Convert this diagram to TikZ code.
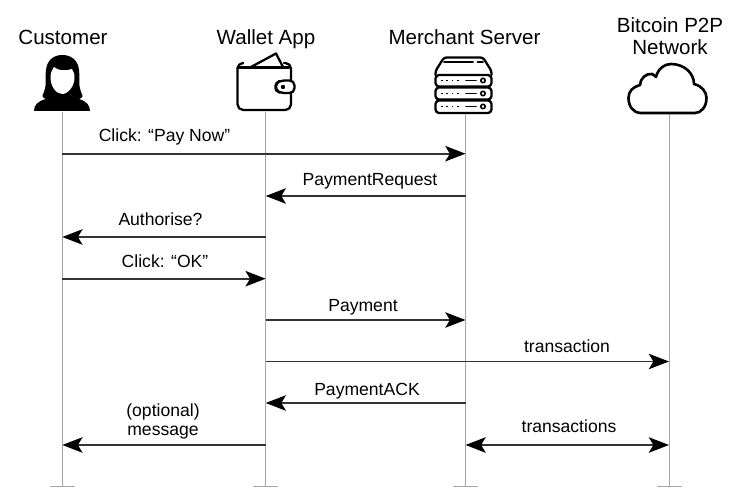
\documentclass[tikz,border=0pt]{standalone}
\usepackage{fontspec}
\setmainfont{Liberation Sans}
\usetikzlibrary{arrows.meta}

\tikzset{
  >={Stealth[length=11.5pt, width=8.8pt, inset=2.6pt, black]},
  actorlabel/.style={anchor=base, align=center, inner sep=0pt, font=\fontsize{11.7}{13}\selectfont},
  msglabel/.style={anchor=base, align=center, inner sep=0pt, font=\fontsize{10}{11.3}\selectfont},
  lifeline/.style={draw=black!35, line width=0.5pt},
  msg/.style={line width=0.95pt, draw=black!80, ->},
  bothmsg/.style={line width=0.95pt, draw=black!80, <->},
  icon/.style={draw=black, line width=1.3pt, line join=round, line cap=round}
}

\begin{document}
\begin{tikzpicture}[x=0.02cm, y=-0.02cm]

\useasboundingbox (0,0) rectangle (748,499);

\node[actorlabel] (customerlabel) at (63,45) {Customer};
\node[actorlabel] (walletlabel) at (266,45) {Wallet App};
\node[actorlabel] (merchantlabel) at (464.5,45) {Merchant Server};
\node[actorlabel] (bitcoinlabel) at (670,55) {Bitcoin P2P\\Network};

\coordinate (customer) at (62.3,112);
\coordinate (wallet) at (265.7,112);
\coordinate (merchant) at (465.5,113);
\coordinate (bitcoin) at (669,113);

\coordinate (bottom) at (0,486.7);
\coordinate (m1) at (0,153.7);
\coordinate (m2) at (0,196);
\coordinate (m3) at (0,237);
\coordinate (m4) at (0,278.7);
\coordinate (m5) at (0,320);
\coordinate (m6) at (0,361.5);
\coordinate (m7) at (0,403);
\coordinate (m8) at (0,445);

\draw[lifeline] (customer) -- (customer |- bottom) +(-12.5,0) -- +(12.5,0);
\draw[lifeline] (wallet) -- (wallet |- bottom) +(-12.5,0) -- +(12.5,0);
\draw[lifeline] (merchant) -- (merchant |- bottom) +(-12.5,0) -- +(12.5,0);
\draw[lifeline] (bitcoin) -- (bitcoin |- bottom) +(-12.5,0) -- +(12.5,0);

\fill[black] (34,111) .. controls (34,105) and (38,101) .. (46,99)
      .. controls (43,98) and (41,97) .. (44,92)
      .. controls (47,85) and (45,78) .. (46,70)
      .. controls (47,60) and (54,55) .. (62.3,55)
      .. controls (71,55) and (78,60) .. (79,70)
      .. controls (80,78) and (78,85) .. (81,92)
      .. controls (84,97) and (82,98) .. (79,99)
      .. controls (86,101) and (90,105) .. (90,111) -- cycle;
\fill[white] (50.5,76) .. controls (51,72) and (52,70) .. (54,67)
      .. controls (58,71) and (66,71) .. (72,69)
      .. controls (74,72) and (74.5,74) .. (74.5,78)
      .. controls (74.5,86) and (68,94) .. (62.3,94)
      .. controls (56,94) and (50,86) .. (50.5,76) -- cycle;

\draw[icon] (251,67) -- (276,53.5) -- (283,67);
\draw[icon, rounded corners=3.2pt] (242,63) -- (237.5,63) -- (237.5,110) -- (291,110) -- (291,63) -- (284,63);
\draw[icon] (237.5,67.5) -- (289,67.5);
\draw[icon, fill=white, rounded corners=2.8pt] (294.5,80.5) -- (280,80.5) -- (275.5,84) -- (275.5,90) -- (280,93) -- (294.5,93) -- cycle;
\fill[black] (283,87) circle (2.2);

\draw[icon, rounded corners=1.5pt] (435.5,75) -- (435.5,71) -- (444,57.5) -- (483,57.5) -- (491.5,71) -- (491.5,75);
\draw[icon, rounded corners=2pt] (435.5,75) rectangle (491.5,86.5);
\draw[icon, rounded corners=2pt] (435.5,87.5) rectangle (491.5,99.5);
\draw[icon, rounded corners=2pt] (435.5,100.5) rectangle (491.5,113);
\draw[icon, line width=0.9pt] (444,62) -- (473,62) (477.5,62) -- (483,62);
\draw[icon, line width=1.1pt, dash pattern=on 1.1pt off 1.9pt, line cap=butt] (441,80.5) -- (462,80.5) (441,93.5) -- (462,93.5) (441,106.5) -- (462,106.5);
\draw[icon, line width=0.9pt] (466,80.5) -- (476,80.5) (466,93.5) -- (476,93.5) (466,106.5) -- (476,106.5);
\draw[icon, line width=0.9pt] (483,80.5) circle (2.2) (483,93.5) circle (2.2) (483,106.5) circle (2.2);

\draw[icon, line width=1.5pt] (641,113) .. controls (633,113) and (628.5,106) .. (628.5,98)
      .. controls (628.5,91) and (633,87) .. (640,85)
      .. controls (640,79) and (646,73) .. (652,74)
      .. controls (654,75) and (655,76) .. (656,77)
      .. controls (658,69) and (664,64) .. (671,64)
      .. controls (684,64) and (694,73) .. (694,84)
      .. controls (702,86) and (706.5,92) .. (706.5,98)
      .. controls (706.5,107) and (701,113) .. (695,113) -- cycle;

\draw[msg] (customer |- m1) -- (merchant |- m1);
\draw[msg] (merchant |- m2) -- (wallet |- m2);
\draw[msg] (wallet |- m3) -- (customer |- m3);
\draw[msg] (customer |- m4) -- (wallet |- m4);
\draw[msg] (wallet |- m5) -- (merchant |- m5);
\draw[msg] (wallet |- m6) -- (bitcoin |- m6);
\draw[msg] (merchant |- m7) -- (wallet |- m7);
\draw[msg] (wallet |- m8) -- (customer |- m8);
\draw[bothmsg] (merchant |- m8) -- (bitcoin |- m8);

\node[msglabel] (paynow) at (164.5,142) {Click: “Pay Now”};
\node[msglabel] (request) at (370,186) {PaymentRequest};
\node[msglabel] (authorise) at (160.5,226) {Authorise?};
\node[msglabel] (okclick) at (165,268) {Click: “OK”};
\node[msglabel] (payment) at (363,312) {Payment};
\node[msglabel] (transaction) at (567,353) {transaction};
\node[msglabel] (ack) at (367,396) {PaymentACK};
\node[msglabel] (optional) at (163,436) {(optional)\\message};
\node[msglabel] (transactions) at (569,433) {transactions};

\end{tikzpicture}
\end{document}
